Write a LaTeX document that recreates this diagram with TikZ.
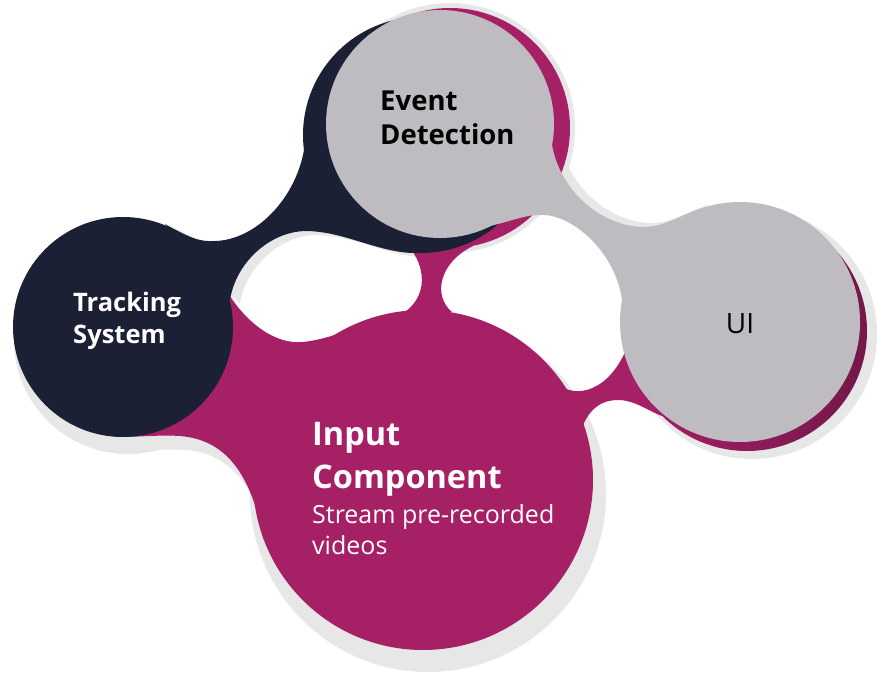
\documentclass[tikz,border=0pt]{standalone}
\usepackage{fontspec}
\setmainfont{Open Sans}
\definecolor{inkNavy}{HTML}{1B2034}
\definecolor{stoneGrey}{HTML}{BEBCC1}
\definecolor{berry}{HTML}{A62066}
\definecolor{berryDark}{HTML}{74184A}
\definecolor{haze}{HTML}{E7E7E7}

% concave necks that join the discs into one blob
\newcommand\neckTrackEvent{(165,224) .. controls (190,238) and (200,242) .. (215,241) .. controls (255,240) and (295,200) .. (304,150) -- (418,253) .. controls (380,254) and (345,231) .. (305,231) .. controls (270,232) and (236,262) .. (230,300) -- cycle}
\newcommand\neckEventUI{(552,145) .. controls (560,190) and (600,226) .. (643,227) .. controls (665,227) and (680,215) .. (700,209) -- (622,300) .. controls (615,250) and (570,213) .. (540,215) .. controls (525,215) and (515,220) .. (490,226) -- cycle}
\newcommand\neckEventInput{(400,237) .. controls (428,262) and (432,300) .. (395,318) -- (452,312) .. controls (432,295) and (440,262) .. (473,246) -- cycle}
\newcommand\neckTrackInput{(226,290) .. controls (245,322) and (275,345) .. (303,342) .. controls (340,338) and (370,318) .. (430,305) -- (423,480) -- (264,540) .. controls (252,480) and (230,440) .. (180,436) .. controls (150,434) and (125,440) .. (100,434) -- (123,327) -- cycle}
\newcommand\neckInputUI{(557,383) .. controls (575,400) and (610,392) .. (628,345) -- (747,331) -- (662,416) .. controls (650,412) and (635,400) .. (618,400) .. controls (605,400) and (592,405) .. (583,425) -- (423,480) -- cycle}

\tikzset{
  lbl/.style={align=left, anchor=base west, inner sep=0pt},
  headA/.style={font=\fontsize{27.5}{34}\selectfont\bfseries},
  headB/.style={font=\fontsize{25.5}{31.5}\selectfont\bfseries},
  headC/.style={font=\fontsize{32.5}{43}\selectfont\bfseries},
  plainhead/.style={font=\fontsize{28}{34}\selectfont},
  bodytext/.style={font=\fontsize{25}{31}\selectfont},
}

\begin{document}
\begin{tikzpicture}[x=1pt,y=-1pt]
\useasboundingbox (0,0) rectangle (877,674);

% soft drop shadow
\begin{scope}[fill=haze]
  \fill (128,340) circle[radius=114pt];
  \fill (450,128) circle[radius=125pt];
  \fill (752,334) circle[radius=125pt];
  \fill (428,494) circle[radius=178pt];
  \fill[shift={(6,14)}] \neckTrackInput;
  \fill[shift={(8,-4)}] \neckEventUI;
  \fill[shift={(10,4)}] \neckTrackEvent;
\end{scope}

% berry layer
\shade[left color=berry, middle color=berry, right color=berryDark] (747,331) circle[radius=120pt];
\fill[berry] (450,128) circle[radius=120pt];
\fill[berry] \neckEventInput;
\fill[berry] \neckTrackInput;
\fill[berry] \neckInputUI;
\fill[berry] (423,480) circle[radius=170pt];

% navy layer
\fill[inkNavy] (421,135) circle[radius=118pt];
\fill[inkNavy] \neckTrackEvent;
\fill[inkNavy] (123,327) circle[radius=110pt];

% grey layer
\fill[stoneGrey] \neckEventUI;
\fill[stoneGrey] (440,124) circle[radius=114pt];
\fill[stoneGrey] (740,322) circle[radius=120pt];

% labels (base anchor sits on the last line)
\node[lbl, headA, text=black] (eventlbl) at (380,144) {Event\\Detection};
\node[lbl, headB, text=white] (tracklbl) at (73,343) {Tracking\\System};
\node[plainhead, text=black, anchor=base, inner sep=0pt] (uilbl) at (740,333) {UI};
\node[lbl, headC, text=white] (inputlbl) at (312,488) {Input\\Component};
\node[lbl, bodytext, text=white] (inputdesc) at (312,554) {Stream pre-recorded\\videos};
\end{tikzpicture}
\end{document}
